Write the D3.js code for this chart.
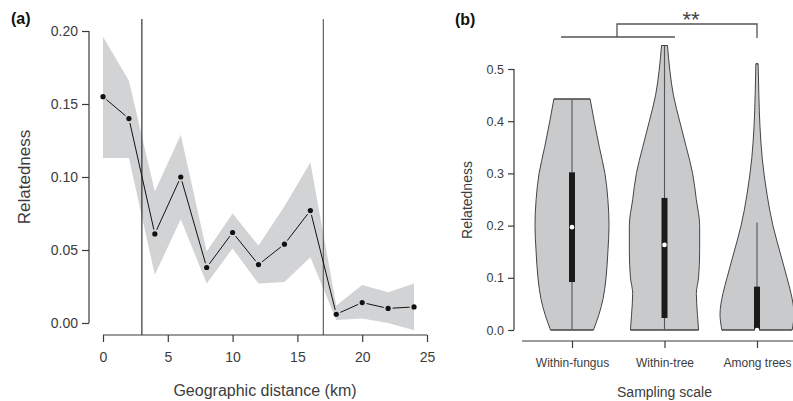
<!DOCTYPE html>
<html>
<head>
<meta charset="utf-8">
<script src="https://cdn.jsdelivr.net/npm/d3@7"></script>
<style>
  body { margin: 0; background: #fff; }
  svg { font-family: "Liberation Sans", Arial, sans-serif; }
</style>
</head>
<body>
<div id="chart"></div>
<script>
// panel (a) data
var distance = [0, 2, 4, 6, 8, 10, 12, 14, 16, 18, 20, 22, 24]
var related = [0.155, 0.140, 0.061, 0.100, 0.038, 0.062, 0.040, 0.054, 0.077, 0.006, 0.014, 0.010, 0.011]
var upperCI = [0.196, 0.166, 0.090, 0.129, 0.049, 0.075, 0.053, 0.080, 0.110, 0.012, 0.026, 0.021, 0.027]
var lowerCI = [0.113, 0.113, 0.033, 0.071, 0.027, 0.051, 0.027, 0.028, 0.045, 0.002, 0.003, 0.000, -0.005]
var cutoffs = [3, 17]
var xTicksA = [0, 5, 10, 15, 20, 25]
var yTicksA = [0, 0.05, 0.10, 0.15, 0.20]

// panel (b) data
var scales = ['Within-fungus', 'Within-tree', 'Among trees']
var densFungus = [[0, .58], [.03, .73], [.06, .84], [.1, .92], [.15, .97], [.2, 1], [.25, .97], [.3, .89], [.35, .74], [.4, .6], [.4425, .49]]
var densTree = [[0, .92], [.03, .89], [.07, .86], [.1, .92], [.15, .95], [.2, .95], [.25, .86], [.3, .76], [.35, .59], [.4, .41], [.45, .24], [.5, .14], [.545, .08]]
var densAmong = [[0, .95], [.03, 1], [.07, .92], [.1, .81], [.134, .68], [.17, .54], [.2, .43], [.26, .27], [.33, .14], [.39, .08], [.45, .05], [.51, .03]]
var medians = [0.197, 0.163, 0.0]
var q1 = [0.092, 0.023, 0.0]
var q3 = [0.302, 0.253, 0.083]
var whiskLo = [0, 0, 0]
var whiskHi = [0.4425, 0.544, 0.206]
var yTicksB = [0, 0.1, 0.2, 0.3, 0.4, 0.5]

var svg = d3.select('#chart').append('svg').attr('width', 793).attr('height', 401)
var axisCol = '#3a3a3a', textCol = '#3c3c3c'

// ---------- panel (a)
var xA = d3.scaleLinear().domain([0, 25]).range([103, 427])
var yA = d3.scaleLinear().domain([0, 0.2]).range([323, 31])

var pts = distance.map(function(d, i) { return {x: d, y: related[i], hi: upperCI[i], lo: lowerCI[i]} })

svg.append('path').datum(pts)
	.attr('d', d3.area().x(function(d) { return xA(d.x) }).y0(function(d) { return yA(d.lo) }).y1(function(d) { return yA(d.hi) }))
	.attr('fill', '#d2d3d5')

cutoffs.forEach(function(c, i) {
	svg.append('line').attr('x1', xA(c)).attr('x2', xA(c)).attr('y1', 19).attr('y2', 335)
		.attr('stroke', i == 0 ? '#222' : '#555').attr('stroke-width', 1.1)
})

// segments with gaps around points
for (var i = 0; i < pts.length - 1; i++) {
	var x1 = xA(pts[i].x), y1 = yA(pts[i].y), x2 = xA(pts[i + 1].x), y2 = yA(pts[i + 1].y)
	var len = Math.sqrt((x2 - x1) * (x2 - x1) + (y2 - y1) * (y2 - y1))
	var g = 4.5 / len
	svg.append('line')
		.attr('x1', x1 + (x2 - x1) * g).attr('y1', y1 + (y2 - y1) * g)
		.attr('x2', x2 - (x2 - x1) * g).attr('y2', y2 - (y2 - y1) * g)
		.attr('stroke', '#111').attr('stroke-width', 1)
}
svg.selectAll('.pt').data(pts).enter().append('circle')
	.attr('cx', function(d) { return xA(d.x) }).attr('cy', function(d) { return yA(d.y) })
	.attr('r', 2.6).attr('fill', '#111')

var axA = svg.append('g').attr('transform', 'translate(89,0)')
	.call(d3.axisLeft(yA).tickValues(yTicksA).tickFormat(d3.format('.2f')).tickSize(7).tickPadding(4))
var bxA = svg.append('g').attr('transform', 'translate(0,335)')
	.call(d3.axisBottom(xA).tickValues(xTicksA).tickSize(7).tickPadding(10))
;[axA, bxA].forEach(function(a) {
	a.select('.domain').attr('stroke', axisCol).attr('stroke-width', 1.2)
	a.selectAll('line').attr('stroke', axisCol).attr('stroke-width', 1.2)
	a.selectAll('text').attr('fill', textCol).style('font-size', '14px')
})
axA.select('.domain').attr('d', 'M0,' + yA(0.2) + 'V' + yA(0))
bxA.select('.domain').attr('d', 'M' + xA(0) + ',0H' + xA(25))

svg.append('text').attr('transform', 'translate(30,177) rotate(-90)').attr('text-anchor', 'middle')
	.attr('fill', textCol).style('font-size', '17px').text('Relatedness')
svg.append('text').attr('x', 265).attr('y', 396).attr('text-anchor', 'middle')
	.attr('fill', textCol).style('font-size', '16px').text('Geographic distance (km)')
svg.append('text').attr('x', 11).attr('y', 24).attr('fill', '#111')
	.style('font-size', '16px').style('font-weight', 'bold').text('(a)')

// ---------- panel (b)
var xB = d3.scalePoint().domain(scales).range([572, 757])
var yB = d3.scaleLinear().domain([0, 0.5]).range([330, 69])
var wB = d3.scaleLinear().domain([0, 1]).range([0, 37])
var dens = [densFungus, densTree, densAmong]

scales.forEach(function(s, i) {
	var cx = xB(s)
	svg.append('path').datum(dens[i])
		.attr('d', d3.area().curve(d3.curveMonotoneY)
			.y(function(d) { return yB(d[0]) })
			.x0(function(d) { return cx - wB(d[1]) })
			.x1(function(d) { return cx + wB(d[1]) }))
		.attr('fill', '#c9cacc').attr('stroke', '#444').attr('stroke-width', 1)
	// close the flat ends
	var top = dens[i][dens[i].length - 1], bot = dens[i][0]
	svg.append('line').attr('x1', cx - wB(bot[1])).attr('x2', cx + wB(bot[1])).attr('y1', yB(bot[0])).attr('y2', yB(bot[0]))
		.attr('stroke', '#444')
	svg.append('line').attr('x1', cx - wB(top[1])).attr('x2', cx + wB(top[1])).attr('y1', yB(top[0])).attr('y2', yB(top[0]))
		.attr('stroke', '#444')
	svg.append('line').attr('x1', cx).attr('x2', cx).attr('y1', yB(whiskLo[i])).attr('y2', yB(whiskHi[i]))
		.attr('stroke', '#555').attr('stroke-width', 1.1)
	svg.append('rect').attr('x', cx - 3).attr('width', 6).attr('y', yB(q3[i])).attr('height', yB(q1[i]) - yB(q3[i]))
		.attr('fill', '#1a1a1a')
	svg.append('circle').attr('cx', cx).attr('cy', yB(medians[i])).attr('r', 2.3).attr('fill', '#fff')
})

var axB = svg.append('g').attr('transform', 'translate(514,0)')
	.call(d3.axisLeft(yB).tickValues(yTicksB).tickFormat(d3.format('.1f')).tickSize(6).tickPadding(4))
var bxB = svg.append('g').attr('transform', 'translate(0,341)')
	.call(d3.axisBottom(xB).tickSize(7).tickPadding(10))
;[axB, bxB].forEach(function(a) {
	a.select('.domain').attr('stroke', axisCol).attr('stroke-width', 1.2)
	a.selectAll('line').attr('stroke', axisCol).attr('stroke-width', 1.2)
	a.selectAll('text').attr('fill', textCol)
})
axB.selectAll('text').style('font-size', '12.5px')
bxB.selectAll('text').style('font-size', '12px')
axB.select('.domain').attr('d', 'M0,' + yB(0.5) + 'V' + yB(0))
bxB.select('.domain').attr('d', 'M522,0H793')

svg.append('text').attr('transform', 'translate(472,200) rotate(-90)').attr('text-anchor', 'middle')
	.attr('fill', textCol).style('font-size', '14px').text('Relatedness')
svg.append('text').attr('x', xB('Within-tree')).attr('y', 397).attr('text-anchor', 'middle')
	.attr('fill', textCol).style('font-size', '14px').text('Sampling scale')
svg.append('text').attr('x', 455).attr('y', 25).attr('fill', '#111')
	.style('font-size', '16px').style('font-weight', 'bold').text('(b)')

// significance bracket
var br = svg.append('g').attr('stroke', '#555').attr('stroke-width', 1.3).attr('fill', 'none')
br.append('path').attr('d', 'M561,37H675')
br.append('path').attr('d', 'M617,37V24H' + xB('Among trees') + 'V38')
svg.append('text').attr('x', 691).attr('y', 27).attr('text-anchor', 'middle')
	.attr('fill', '#444').style('font-size', '22px').text('**')
</script>
</body>
</html>
